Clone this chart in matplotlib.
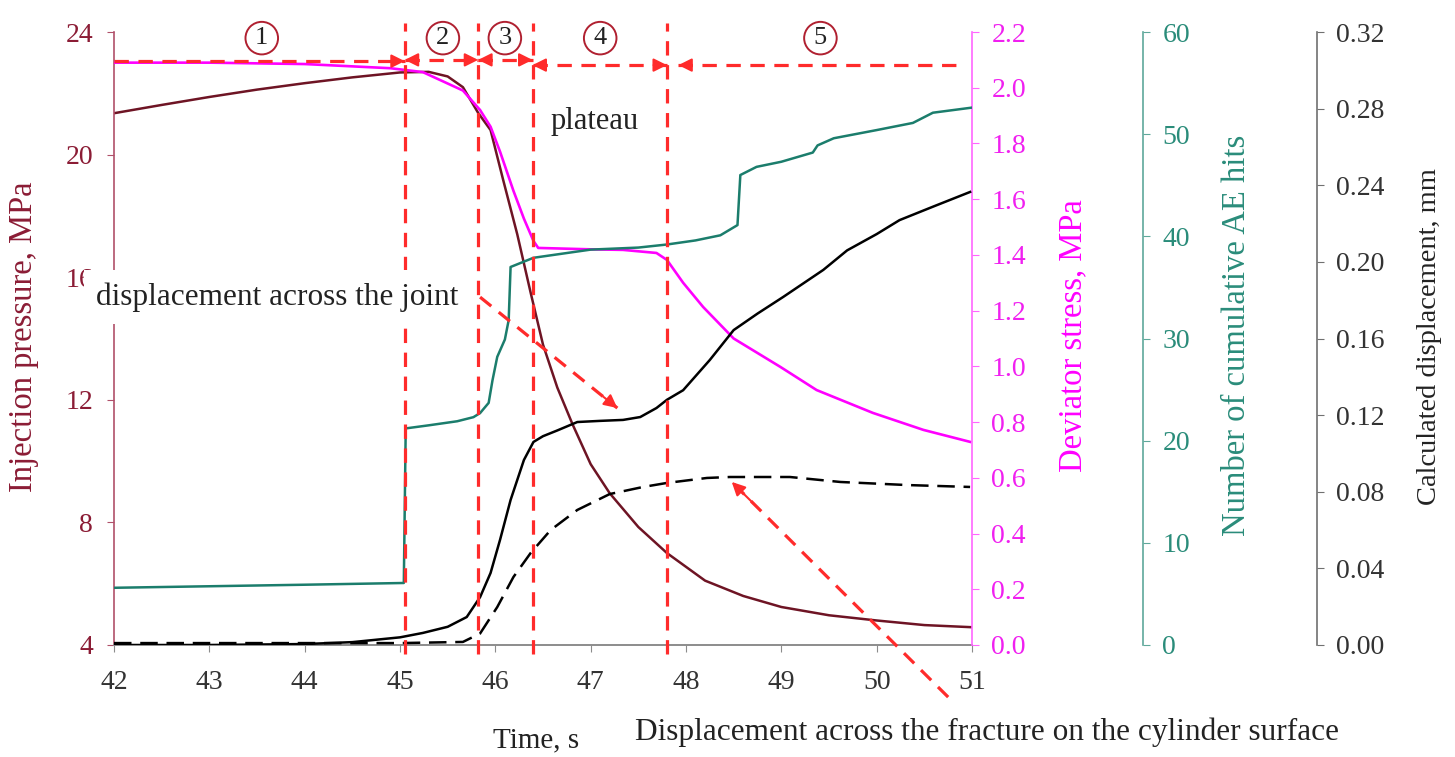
# Injection pressure, deviator stress, AE hits and displacement versus time
import matplotlib.pyplot as plt
from matplotlib.ticker import FormatStrFormatter

plt.rcParams['font.family'] = ['Liberation Serif', 'DejaVu Serif']

# injection pressure, MPa
t_pres = [42.0, 42.5, 43.0, 43.5, 44.0, 44.5, 45.0, 45.3, 45.5, 45.66, 45.82, 45.95, 46.08,
          46.23, 46.37, 46.5, 46.65, 46.81, 47.0, 47.2, 47.5, 47.8, 48.2, 48.6, 49.0, 49.5,
          50.0, 50.5, 51.0]
pres = [21.35, 21.62, 21.88, 22.12, 22.33, 22.52, 22.68, 22.7, 22.55, 22.2, 21.36, 20.8, 19.2,
        17.4, 15.5, 13.8, 12.4, 11.2, 9.9, 8.95, 7.85, 7.0, 6.1, 5.6, 5.24, 4.97,
        4.8, 4.65, 4.58]

# deviator stress, MPa
t_dev = [42.0, 43.0, 44.0, 44.9, 45.24, 45.66, 45.84, 45.95, 46.05, 46.19, 46.3, 46.4, 46.45,
         47.0, 47.34, 47.69, 47.8, 47.97, 48.18, 48.5, 48.99, 49.37, 49.96, 50.49, 50.98]
dev = [2.09, 2.09, 2.085, 2.07, 2.056, 1.99, 1.92, 1.86, 1.77, 1.63, 1.53, 1.45, 1.425,
       1.42, 1.418, 1.407, 1.382, 1.3, 1.213, 1.1, 0.998, 0.915, 0.833, 0.772, 0.729]

# number of cumulative AE hits
t_ae = [42.0, 43.0, 44.0, 45.04, 45.06, 45.3, 45.6, 45.77, 45.84, 45.93, 45.97, 46.02, 46.1,
        46.14, 46.16, 46.4, 47.0, 47.5, 47.8, 48.1, 48.36, 48.54, 48.57, 48.74, 49.0, 49.33,
        49.38, 49.55, 50.0, 50.38, 50.59, 51.0]
ae = [5.6, 5.75, 5.9, 6.07, 21.2, 21.5, 21.9, 22.3, 22.7, 23.7, 25.9, 28.2, 29.9,
      31.8, 37.0, 37.9, 38.7, 38.9, 39.2, 39.6, 40.1, 41.1, 46.0, 46.8, 47.3, 48.2,
      48.9, 49.6, 50.4, 51.1, 52.1, 52.6]

# calculated displacement across the joint, mm
t_joint = [42.0, 43.0, 44.0, 44.5, 45.0, 45.24, 45.5, 45.7, 45.84, 45.95, 46.05, 46.16, 46.3,
           46.4, 46.5, 46.65, 46.86, 47.1, 47.34, 47.52, 47.69, 47.8, 47.97, 48.25, 48.5,
           48.75, 49.02, 49.44, 49.69, 50.0, 50.24, 50.6, 50.98]
joint = [0.0, 0.0, 0.0005, 0.0015, 0.004, 0.0063, 0.0095, 0.0146, 0.025, 0.0376, 0.055, 0.0757,
         0.0966, 0.106, 0.109, 0.112, 0.1164, 0.117, 0.1175, 0.119, 0.1237, 0.128, 0.133,
         0.1488, 0.1644, 0.173, 0.1817, 0.1958, 0.206, 0.2145, 0.2218, 0.229, 0.2365]

# displacement across the fracture on the cylinder surface, mm
t_surf = [42.0, 45.0, 45.66, 45.84, 46.02, 46.19, 46.37, 46.58, 46.86, 47.2, 47.55, 47.8,
          48.22, 48.46, 49.09, 49.62, 50.32, 50.98]
surf = [0.001, 0.001, 0.0016, 0.006, 0.0198, 0.0355, 0.048, 0.060, 0.0705, 0.0788, 0.0825,
        0.0846, 0.0872, 0.0877, 0.0877, 0.0851, 0.0835, 0.0825]

# stage boundaries (s) and stage numbers
stage_bounds = [45.05, 45.82, 46.39, 47.8]
stage_names = ['1', '2', '3', '4', '5']

W, H = 1455, 757
RED = '#FF2B2B'
MAROON = '#6E1424'
MAGENTA = '#FF00FF'
TEAL = '#1B7D6C'


def fx(px):  # pixel -> figure fraction
    return px / W


def fy(py):
    return 1 - py / H


fig = plt.figure(figsize=(W / 100, H / 100), dpi=100)
ax = fig.add_axes([fx(114), fy(645), (972 - 114) / W, (645 - 32) / H])
ax2 = ax.twinx()
ax3 = ax.twinx()
ax4 = ax.twinx()

ax.plot(t_pres, pres, color=MAROON, lw=1.8)
ax2.plot(t_dev, dev, color=MAGENTA, lw=1.9)
ax3.plot(t_ae, ae, color=TEAL, lw=1.8)
ax4.plot(t_joint, joint, color='black', lw=1.8)
ax4.plot(t_surf, surf, color='black', lw=1.8, dashes=(7, 3.5))

# axis ranges and ticks
ax.set_xlim(42, 51)
ax.set_xticks(range(42, 52))
ax.set_ylim(4, 24)
ax.set_yticks(range(4, 25, 4))
ax2.set_ylim(0, 2.2)
ax2.set_yticks([i * 0.2 for i in range(12)])
ax2.yaxis.set_major_formatter(FormatStrFormatter('%.1f'))
ax3.set_ylim(0, 60)
ax3.set_yticks(range(0, 61, 10))
ax4.set_ylim(0, 0.32)
ax4.set_yticks([i * 0.04 for i in range(9)])
ax4.yaxis.set_major_formatter(FormatStrFormatter('%.2f'))

ax3.spines['right'].set_position(('axes', (1143 - 114) / 858))
ax4.spines['right'].set_position(('axes', (1317 - 114) / 858))

for a in (ax, ax2, ax3, ax4):
    a.spines['top'].set_visible(False)
    a.patch.set_visible(False)
for a in (ax2, ax3, ax4):
    a.spines['left'].set_visible(False)
    a.spines['bottom'].set_visible(False)
ax.spines['right'].set_visible(False)

ax.spines['left'].set_color('#B0506A')
ax.spines['bottom'].set_color('#8C8C8C')
ax.spines['left'].set_linewidth(1.2)
ax.spines['bottom'].set_linewidth(1.4)
ax.tick_params(axis='y', colors='#8B1C35', labelsize=20, length=5, pad=10)
ax.tick_params(axis='y', color='#B0506A')
ax.tick_params(axis='x', colors='#333333', labelsize=20, length=5, pad=13)
ax.tick_params(axis='x', color='#8C8C8C')

spine_cols = [(ax2, '#FF66FF', '#F020F0'), (ax3, '#5FA89B', '#2A8C7A'), (ax4, '#707070', '#333333')]
for a, sc, tc in spine_cols:
    a.spines['right'].set_color(sc)
    a.spines['right'].set_linewidth(1.2)
    a.tick_params(axis='y', colors=tc, labelsize=20, length=5, pad=9)
    a.tick_params(axis='y', color=sc)

# axis titles
fig.text(fx(24), fy(337), 'Injection pressure, MPa', rotation=90, ha='center', va='center',
         fontsize=23.5, color='#8B1C35')
fig.text(fx(1073), fy(336), 'Deviator stress, MPa', rotation=90, ha='center', va='center',
         fontsize=23.5, color=MAGENTA)
fig.text(fx(1237), fy(335), 'Number of cumulative AE hits', rotation=90, ha='center',
         va='center', fontsize=23.5, color='#2A8C7A')
fig.text(fx(1430), fy(337), 'Calculated displacement, mm', rotation=90, ha='center',
         va='center', fontsize=20.5, color='#222222')
fig.text(fx(536), fy(740), 'Time, s', ha='center', va='center', fontsize=21, color='#222222')

# red stage markers, drawn in pressure units on the top axes
tr = ax.transData
dash_red = dict(color=RED, lw=2.3, dashes=(4.5, 3), transform=tr, clip_on=False, zorder=5)
for tb in stage_bounds:
    ax4.plot([tb, tb], [3.7, 24.3], **dash_red)


def head(x_tip, y_tip, x_from, y_from):  # solid arrow head
    ax4.annotate('', xy=(x_tip, y_tip), xytext=(x_from, y_from), xycoords=tr, textcoords=tr,
                 arrowprops=dict(arrowstyle='-|>', color=RED, lw=1.5, mutation_scale=20,
                                 shrinkA=0, shrinkB=0), annotation_clip=False, zorder=6)


stage_arrows = [(42.0, 45.05, 23.05, 'r'), (45.05, 45.82, 23.09, 'lr'), (45.82, 46.39, 23.09, 'lr'),
                (46.39, 47.8, 22.92, 'lr'), (47.92, 50.88, 22.92, 'l')]
for x0, x1, yy, heads in stage_arrows:
    ax4.plot([x0, x1], [yy, yy], **dash_red)
    if 'r' in heads:
        head(x1, yy, x1 - 0.14, yy)
    if 'l' in heads:
        head(x0, yy, x0 + 0.14, yy)

stage_x = [43.55, 45.45, 46.1, 47.1, 49.41]
for name, sx in zip(stage_names, stage_x):
    ax4.text(sx, 23.8, name, transform=tr, ha='center', va='center', fontsize=19,
             color='#222222', zorder=7,
             bbox=dict(boxstyle='circle,pad=0.2', fc='white', ec='#B02030', lw=1.4))

# diagonal pointers
for (x0, y0), (x1, y1) in [((45.84, 15.35), (47.28, 11.73)), ((50.75, 2.3), (48.48, 9.32))]:
    ax4.plot([x0, x1], [y0, y1], **dash_red)
    head(x1, y1, x1 + 0.1 * (x0 - x1), y1 + 0.1 * (y0 - y1))

fig.text(fx(96), fy(297), 'displacement across the joint', ha='left', va='center', fontsize=22.5,
         color='#222222', bbox=dict(boxstyle='square,pad=0.4', fc='white', ec='none'))
fig.text(fx(595), fy(122), 'plateau', ha='center', va='center', fontsize=22, color='#222222')
fig.text(fx(987), fy(732), 'Displacement across the fracture on the cylinder surface',
         ha='center', va='center', fontsize=22.5, color='#222222')

fig.savefig('out.png', dpi=100)
